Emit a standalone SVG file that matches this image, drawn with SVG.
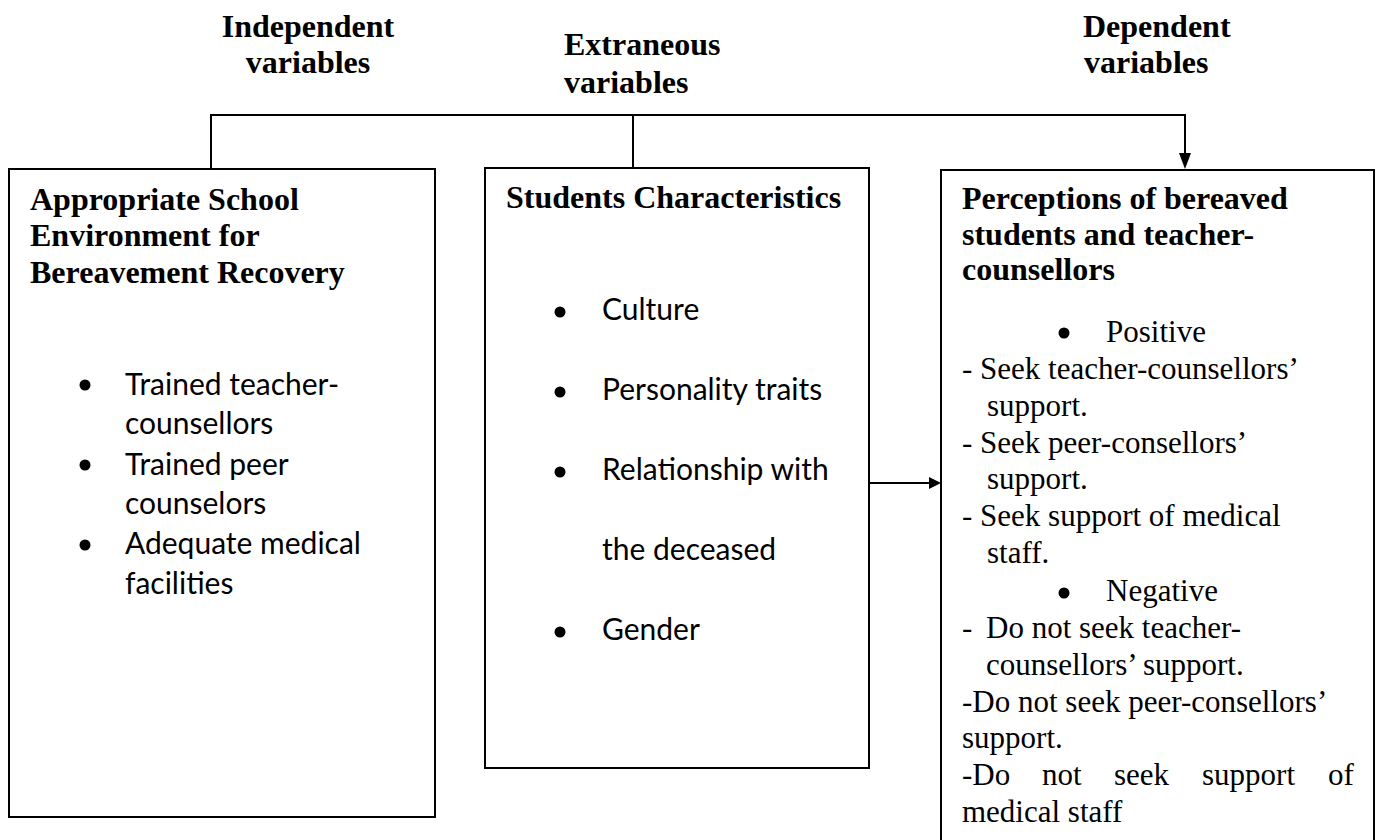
<svg xmlns="http://www.w3.org/2000/svg" width="1377" height="840" viewBox="0 0 1377 840">
<style>
.box{fill:#fff;stroke:#000;stroke-width:2}
.ln{fill:none;stroke:#000;stroke-width:2}
.hd{font-family:"Liberation Serif","Times New Roman",serif;font-weight:bold;font-size:32px;fill:#000}
.tm{font-family:"Liberation Serif","Times New Roman",serif;font-size:31px;fill:#000}
.sn{font-family:Lato,"Open Sans",sans-serif;font-size:30px;fill:#000}
.bul{fill:#000}
</style>
<rect width="1377" height="840" fill="#fff"/>
<g id="headers">
<text class="hd" x="308" y="37" text-anchor="middle">Independent</text>
<text class="hd" x="308" y="73" text-anchor="middle">variables</text>
<text class="hd" x="564" y="55">Extraneous</text>
<text class="hd" x="564" y="93">variables</text>
<text class="hd" x="1083" y="37">Dependent</text>
<text class="hd" x="1084" y="73">variables</text>
</g>
<g id="connectors">
<path class="ln" d="M211,169 V115 H1185 V158"/>
<path class="ln" d="M633,168 V115"/>
<path d="M1179,153 L1191,153 L1185,169 z" fill="#000"/>
<path class="ln" d="M869,483 H931"/>
<path d="M929,477 L941,483 L929,489 z" fill="#000"/>
</g>
<g id="node-left">
<rect class="box" x="9" y="169" width="426" height="648"/>
<text class="hd" x="30" y="210">Appropriate School</text>
<text class="hd" x="30" y="246">Environment for</text>
<text class="hd" x="30" y="283">Bereavement Recovery</text>
<circle class="bul" cx="85" cy="385" r="5.5"/>
<text class="sn" x="125" y="395">Trained teacher-</text>
<text class="sn" x="125" y="434">counsellors</text>
<circle class="bul" cx="85" cy="465" r="5.5"/>
<text class="sn" x="125" y="475">Trained peer</text>
<text class="sn" x="125" y="514">counselors</text>
<circle class="bul" cx="85" cy="545" r="5.5"/>
<text class="sn" x="125" y="554">Adequate medical</text>
<text class="sn" x="125" y="594">facilities</text>
</g>
<g id="node-middle">
<rect class="box" x="485" y="168" width="384" height="600"/>
<text class="hd" x="506" y="208">Students Characteristics</text>
<circle class="bul" cx="560" cy="312" r="5.5"/>
<text class="sn" x="602" y="320">Culture</text>
<circle class="bul" cx="560" cy="392" r="5.5"/>
<text class="sn" x="602" y="400">Personality traits</text>
<circle class="bul" cx="560" cy="472" r="5.5"/>
<text class="sn" x="602" y="480">Relationship with</text>
<text class="sn" x="602" y="560">the deceased</text>
<circle class="bul" cx="560" cy="632" r="5.5"/>
<text class="sn" x="602" y="640">Gender</text>
</g>
<g id="node-right">
<rect class="box" x="941" y="170" width="433" height="680"/>
<text class="hd" x="962" y="209">Perceptions of bereaved</text>
<text class="hd" x="962" y="245">students and teacher-</text>
<text class="hd" x="962" y="280">counsellors</text>
<circle class="bul" cx="1064" cy="333" r="5.5"/>
<text class="tm" x="1106" y="342">Positive</text>
<text class="tm" x="962" y="379">- Seek teacher-counsellors’</text>
<text class="tm" x="987" y="416">support.</text>
<text class="tm" x="962" y="453">- Seek peer-consellors’</text>
<text class="tm" x="987" y="489">support.</text>
<text class="tm" x="962" y="526">- Seek support of medical</text>
<text class="tm" x="987" y="563">staff.</text>
<circle class="bul" cx="1064" cy="593" r="5.5"/>
<text class="tm" x="1106" y="601">Negative</text>
<text class="tm" y="638"><tspan x="962">-</tspan><tspan x="986">Do not seek teacher-</tspan></text>
<text class="tm" x="986" y="675">counsellors’ support.</text>
<text class="tm" x="962" y="712">-Do not seek peer-consellors’</text>
<text class="tm" x="962" y="748">support.</text>
<text class="tm" y="785"><tspan x="962">-Do</tspan><tspan x="1042">not</tspan><tspan x="1114">seek</tspan><tspan x="1202">support</tspan><tspan x="1328">of</tspan></text>
<text class="tm" x="962" y="822">medical staff</text>
</g>
</svg>
